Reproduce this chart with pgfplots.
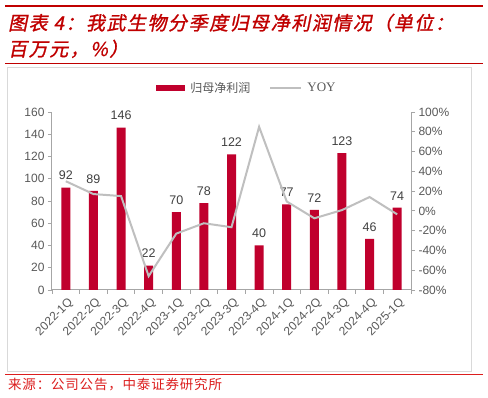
\documentclass[border=0pt]{standalone}
\usepackage{pgfplots}
\pgfplotsset{compat=1.18}
\usepackage{fontspec}
\setmainfont{Liberation Sans}
\newfontfamily\cjk{Noto Sans CJK SC}
\newfontfamily\cjksrc{Noto Sans CJK SC}[LetterSpace=6]
\newfontfamily\cjktitle{Noto Sans CJK SC}[FakeSlant=0.2,FakeBold=1.1,LetterSpace=8]
\newfontfamily\serif{Liberation Serif}
\definecolor{barred}{RGB}{192,0,45}
\definecolor{titlered}{RGB}{192,0,0}
\definecolor{srcred}{RGB}{220,30,30}
\definecolor{linegray}{RGB}{191,191,191}
\definecolor{axgray}{RGB}{166,166,166}
\definecolor{ticktext}{RGB}{89,89,89}
\definecolor{labtext}{RGB}{64,64,64}
\definecolor{framegray}{RGB}{217,217,217}
\pgfplotsset{/pgf/number format/assume math mode=true}
\begin{document}
\begin{tikzpicture}[x=1pt,y=1pt]
\path[use as bounding box] (0,0) rectangle (488,398);
\fill[white] (0,0) rectangle (488,398);
% header
\draw[titlered, line width=2pt] (5,392) -- (483,392);
\node[anchor=base west, inner sep=0, text=titlered, font=\cjktitle\fontsize{19}{22}\selectfont] at (8,368) {图表 4：我武生物分季度归母净利润情况（单位：};
\node[anchor=base west, inner sep=0, text=titlered, font=\cjktitle\fontsize{19}{22}\selectfont] at (8,342) {百万元，\%）};
\draw[titlered, line width=0.8pt] (5,335) -- (483,335);
% frame
\draw[framegray, line width=0.8pt] (7,27) rectangle (471,331);
% footer
\draw[srcred, line width=0.8pt] (5,24) -- (483,24);
\node[anchor=base west, inner sep=0, text=srcred, font=\cjksrc\fontsize{13.5}{16}\selectfont] at (8,8) {来源：公司公告，中泰证券研究所};

\begin{axis}[
  at={(52pt,108pt)}, anchor=south west,
  scale only axis, width=359pt, height=178pt,
  xmin=-0.5, xmax=12.5, ymin=0, ymax=160,
  ytick={0,20,...,160},
  xtick={0,...,12},
  xticklabels={2022-1Q,2022-2Q,2022-3Q,2022-4Q,2023-1Q,2023-2Q,2023-3Q,2023-4Q,2024-1Q,2024-2Q,2024-3Q,2024-4Q,2025-1Q},
  major x tick style={draw=none},
  minor xtick={-0.5,0.5,...,12.5},
  minor tick length=4pt,
  major tick length=4pt,
  tick align=outside,
  axis x line*=bottom, axis y line*=left,
  axis line style={axgray, line width=1pt},
  every tick/.style={axgray, line width=0.8pt},
  tick label style={text=ticktext, font=\fontsize{12}{12}\selectfont},
  x tick label style={rotate=45, anchor=north east, inner sep=1pt, yshift=-2pt},
  legend style={at={(0.282,1.135)}, anchor=west, draw=none, fill=none,
    font=\fontsize{12}{12}\selectfont, text=ticktext, legend columns=2,
    /tikz/every even column/.append style={column sep=14pt},
    nodes={inner xsep=5pt}},
  legend cell align=left,
]
\addplot[ybar, bar width=9pt, fill=barred, draw=none,
  nodes near coords,
  nodes near coords style={text=labtext, font=\fontsize{12.5}{12.5}\selectfont, anchor=south, yshift=4pt},
  legend image code/.code={\fill[barred] (0pt,-3pt) rectangle (29pt,3pt);}]
  coordinates {(0,92) (1,89) (2,146) (3,22) (4,70) (5,78) (6,122) (7,40) (8,77) (9,72) (10,123) (11,46) (12,74)};
\addlegendentry{\cjk 归母净利润}
\addlegendimage{legend image code/.code={\draw[linegray, line width=2pt] (0pt,0pt) -- (31pt,0pt);}}
\addlegendentry{\serif\fontsize{13}{13}\selectfont YOY}
\end{axis}

\begin{axis}[
  at={(52pt,108pt)}, anchor=south west,
  scale only axis, width=359pt, height=178pt,
  xmin=-0.5, xmax=12.5, ymin=-80, ymax=100,
  ytick={-80,-60,...,100},
  yticklabel={\pgfmathprintnumber{\tick}\%},
  axis x line=none, axis y line*=right,
  tick align=outside, major tick length=4pt,
  axis line style={axgray, line width=1pt},
  every tick/.style={axgray, line width=0.8pt},
  tick label style={text=ticktext, font=\fontsize{12}{12}\selectfont},
]
\addplot[linegray, line width=2pt, mark=none] coordinates {
  (0,30) (1,17) (2,15) (3,-66) (4,-23) (5,-12.5) (6,-16.5) (7,85) (8,9.5) (9,-7.5) (10,0.8) (11,14) (12,-3.5)};
\end{axis}
\end{tikzpicture}
\end{document}
